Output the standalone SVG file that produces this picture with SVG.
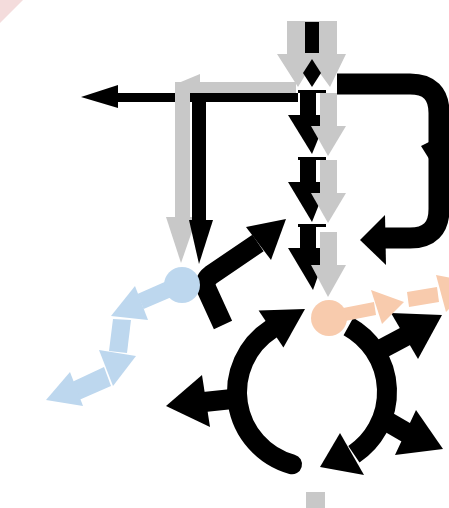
<svg xmlns="http://www.w3.org/2000/svg" width="449" height="508" viewBox="0 0 449 508">
<style>
.k{fill:#000}
.g{fill:#c8c8c8}
.b{fill:#bdd7ee}
.p{fill:#f8cbad}
.ks{fill:none;stroke:#000;stroke-width:20}
</style>
<rect width="449" height="508" fill="#fff"/>
<polygon points="0,0 23,0 0,23" fill="#f4dcdc"/>
<g id="connectors">
  <rect class="k" x="115" y="93" width="183" height="9"/>
  <polygon class="k" points="81,97 118,85 118,108"/>
  <polygon class="g" points="176,84 200,74 200,84"/>
  <rect class="g" x="175" y="82" width="121" height="11"/>
  <rect class="g" x="175" y="82" width="15" height="136"/>
  <polygon class="g" points="166,217 197,217 181,263"/>
  <rect class="k" x="192" y="95" width="14" height="126"/>
  <polygon class="k" points="189,220 213,220 199,264"/>
  <polygon class="g" points="287,21 312,21 312,54 318,54 298,87 277,54 287,54"/>
  <polygon class="g" points="312,21 337,21 337,54 346,54 330,87 306,54 312,54"/>
  <rect class="k" x="305" y="22" width="14" height="31"/>
  <polygon class="k" points="312,59 321,73 312,87 303,73"/>
  <rect class="k" x="298" y="90" width="28" height="3"/>
  <rect class="k" x="300" y="90" width="16" height="26"/>
  <polygon class="k" points="288,115 328,115 312,154"/>
  <rect class="g" x="320" y="93" width="17" height="34"/>
  <polygon class="g" points="311,126 346,126 328,156"/>
  <rect class="k" x="298" y="157" width="28" height="3"/>
  <rect class="k" x="300" y="157" width="16" height="26"/>
  <polygon class="k" points="288,182 328,182 312,222"/>
  <rect class="g" x="320" y="160" width="17" height="34"/>
  <polygon class="g" points="311,193 346,193 328,223"/>
  <rect class="k" x="298" y="224" width="28" height="3"/>
  <rect class="k" x="300" y="224" width="16" height="25"/>
  <polygon class="k" points="288,248 328,248 313,290"/>
  <rect class="g" x="320" y="232" width="17" height="34"/>
  <polygon class="g" points="311,265 346,265 328,297"/>
  <path d="M337,84 H410 Q439,84 439,113 V209 Q439,238 410,238 H382" fill="none" stroke="#000" stroke-width="21"/>
  <polygon class="k" points="421,146 431,141 431,162"/>
  <polygon class="k" points="385,215 360,240 386,265"/>
  <path class="ks" d="M223,325 L207,290 Q203,281 211,275 L258,243"/>
  <polygon class="k" points="286,219 246,227 271,260"/>
  <path class="ks" d="M292,464.3 A75,75 0 0 1 271.2,329.1" stroke-linecap="round"/>
  <polygon class="k" points="258.6,310.4 283.4,347.6 305,309"/>
  <path class="ks" d="M348.4,326.4 A75,75 0 0 1 353.9,454.2"/>
  <polygon class="k" points="340,433 364,475 320,467"/>
  <path class="ks" d="M242,398 L204,402"/>
  <polygon class="k" points="166,406 202,375 210,427"/>
  <path class="ks" d="M374,353 L406,336"/>
  <polygon class="k" points="391,313 442,315 418,359"/>
  <path class="ks" d="M376,415 L407,433"/>
  <polygon class="k" points="416,410 443,449 395,455"/>
  <polygon class="b" points="171.4,279.1 137.4,294.1 143.6,308.9 178.6,293.9"/>
  <polygon class="b" points="135,286 111,316 148,320"/>
  <polygon class="b" points="113,319 131,320 127,353 109,351"/>
  <polygon class="b" points="99,350 136,356 113,386"/>
  <polygon class="b" points="104,367 111,386 79,400 72,382"/>
  <polygon class="b" points="46,400 70,372 83,406"/>
  <polygon class="p" points="333,310 374,302 376,315 335,323"/>
  <polygon class="p" points="371,290 404,302 382,324"/>
  <polygon class="p" points="407,292 437,287 439,302 409,307"/>
  <polygon class="p" points="436,275 476,283 446,312"/>
  <rect class="g" x="306" y="492" width="19" height="16"/>
</g>
<g id="node-blue">
  <circle class="b" cx="182" cy="285" r="18"/>
</g>
<g id="node-peach">
  <circle class="p" cx="329" cy="318" r="18"/>
</g>
</svg>
